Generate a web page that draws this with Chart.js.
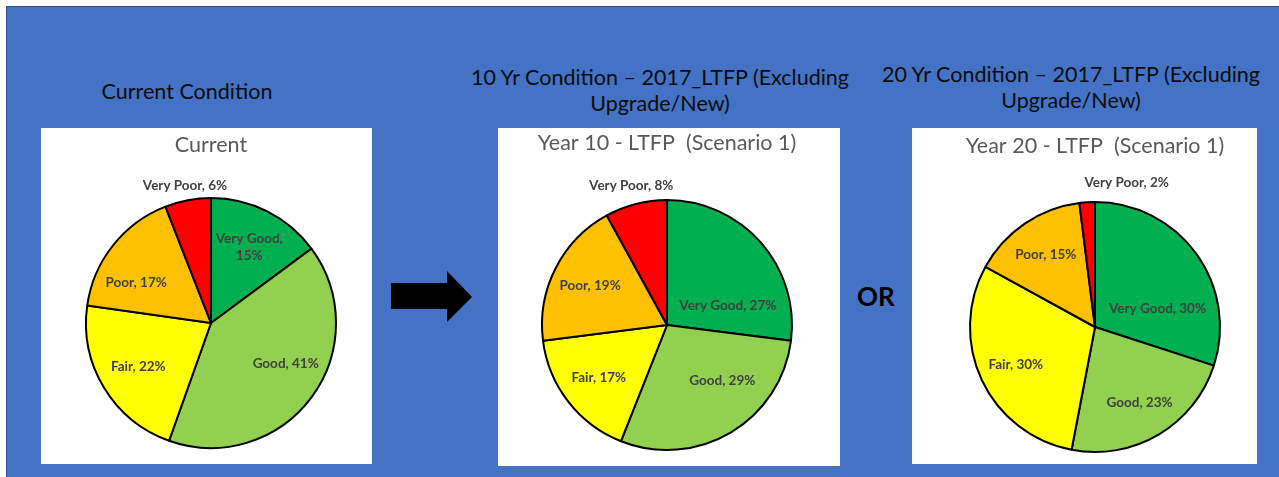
<!DOCTYPE html>
<html>
<head>
<meta charset="utf-8">
<script src="https://cdn.jsdelivr.net/npm/chart.js@4.4.1/dist/chart.umd.min.js"></script>
<style>
  html, body { margin: 0; padding: 0; background: #ffffff; width: 1279px; height: 477px; overflow: hidden; font-family: Lato, "Open Sans", sans-serif; }
  #stage { position: absolute; left: 6px; top: 6px; width: 1273px; height: 471px; background: #4472C4; border-left: 1px solid #2F528F; border-top: 1px solid #2F528F; box-sizing: border-box; }
  .heading { position: absolute; color: #0d0d0d; font-size: 21.5px; line-height: 26px; text-align: center; white-space: nowrap; }
  .panel { position: absolute; background: #ffffff; }
  .panel canvas { display: block; }
  #or { position: absolute; left: 857px; top: 280px; font-size: 26px; font-weight: bold; color: #000; }
  #arrow { position: absolute; left: 0; top: 0; }
</style>
</head>
<body>
<div id="stage"></div>
<div class="heading" style="left:87px; top:78px; width:200px;">Current Condition</div>
<div class="heading" style="left:450px; top:64px; width:420px;">10 Yr Condition – 2017_LTFP (Excluding<br>Upgrade/New)</div>
<div class="heading" style="left:861px; top:61px; width:420px;">20 Yr Condition – 2017_LTFP (Excluding<br>Upgrade/New)</div>
<svg id="arrow" width="1279" height="477"><polygon points="391,283 447,283 447,271 472,297 447,322 447,309 391,309" fill="#000"/></svg>
<div id="or">OR</div>
<div class="panel" style="left:41px; top:128px; width:331px; height:336px;"><canvas id="c1" width="331" height="336"></canvas></div>
<div class="panel" style="left:498px; top:128px; width:342px; height:338px;"><canvas id="c2" width="342" height="338"></canvas></div>
<div class="panel" style="left:912px; top:128px; width:345px; height:336px;"><canvas id="c3" width="345" height="336"></canvas></div>
<script>
const categories = ['Very Good', 'Good', 'Fair', 'Poor', 'Very Poor'];
const currentValues = [15, 41, 22, 17, 6];
const year10Values = [27, 29, 17, 19, 8];
const year20Values = [30, 23, 30, 15, 2];
const chartTitles = ['Current', 'Year 10 - LTFP  (Scenario 1)', 'Year 20 - LTFP  (Scenario 1)'];
const sliceColors = ['#00B050', '#92D050', '#FFFF00', '#FFC000', '#FF0000'];

const labelFont = 'bold 13.5px Lato, "Open Sans", sans-serif';

const sliceLabels = {
  id: 'sliceLabels',
  afterDatasetsDraw(chart, args, opts) {
    const ctx = chart.ctx;
    const meta = chart.getDatasetMeta(0);
    const data = chart.data.datasets[0].data;
    ctx.save();
    ctx.font = labelFont;
    ctx.fillStyle = '#404040';
    ctx.textAlign = 'center';
    ctx.textBaseline = 'middle';
    meta.data.forEach((arc, i) => {
      const p = arc.getProps(['x', 'y', 'startAngle', 'endAngle', 'outerRadius'], true);
      const frac = (p.endAngle - p.startAngle) / (Math.PI * 2);
      const outside = frac < 0.1;
      const ov = (opts.overrides || {})[i] || {};
      let ang = (p.startAngle + p.endAngle) / 2 + (ov.dAngle || 0) * Math.PI / 180;
      let rf = ov.r || (outside ? opts.outsideR : opts.insideR);
      const d = p.outerRadius * rf;
      const x = p.x + Math.cos(ang) * d;
      const y = p.y + Math.sin(ang) * d;
      const text = chart.data.labels[i] + ', ' + data[i] + '%';
      const lines = (opts.wrap || []).includes(i) ? [chart.data.labels[i] + ',', data[i] + '%'] : [text];
      const lh = 17;
      lines.forEach((ln, k) => {
        ctx.fillText(ln, x, y + (k - (lines.length - 1) / 2) * lh);
      });
    });
    ctx.restore();
  }
};

function makePie(id, values, title, titlePad, layoutPad, labelOpts) {
  return new Chart(document.getElementById(id), {
    type: 'pie',
    data: {
      labels: categories,
      datasets: [{
        data: values,
        backgroundColor: sliceColors,
        borderColor: '#000000',
        borderWidth: 2,
        hoverOffset: 0,
        radius: 125
      }]
    },
    options: {
      responsive: false,
      animation: false,
      events: [],
      layout: { padding: layoutPad },
      plugins: {
        legend: { display: false },
        tooltip: { enabled: false },
        title: {
          display: true,
          text: title,
          color: '#595959',
          font: { family: 'Lato, "Open Sans", sans-serif', size: 21.5, weight: 'normal', lineHeight: 1.2 },
          padding: titlePad
        },
        sliceLabels: labelOpts
      }
    },
    plugins: [sliceLabels]
  });
}

makePie('c1', currentValues, chartTitles[0], { top: 4, bottom: 24.2 }, { left: 9, right: 0, top: 0, bottom: 0 },
  { insideR: 0.68, outsideR: 1.12, wrap: [0], overrides: { 1: { dAngle: -8 }, 3: { dAngle: -10 } } });
makePie('c2', year10Values, chartTitles[1], { top: 2, bottom: 28.2 }, { left: 0, right: 4, top: 0, bottom: 0 },
  { insideR: 0.69, outsideR: 1.15, overrides: { 0: { dAngle: 24, r: 0.51 }, 1: { dAngle: -14, r: 0.63 } } });
makePie('c3', year20Values, chartTitles[2], { top: 5, bottom: 31.2 }, { left: 21, right: 0, top: 0, bottom: 0 },
  { insideR: 0.70, outsideR: 1.15, overrides: { 0: { dAngle: 20, r: 0.52 }, 4: { dAngle: 16, r: 1.18 } } });
</script>
</body>
</html>
